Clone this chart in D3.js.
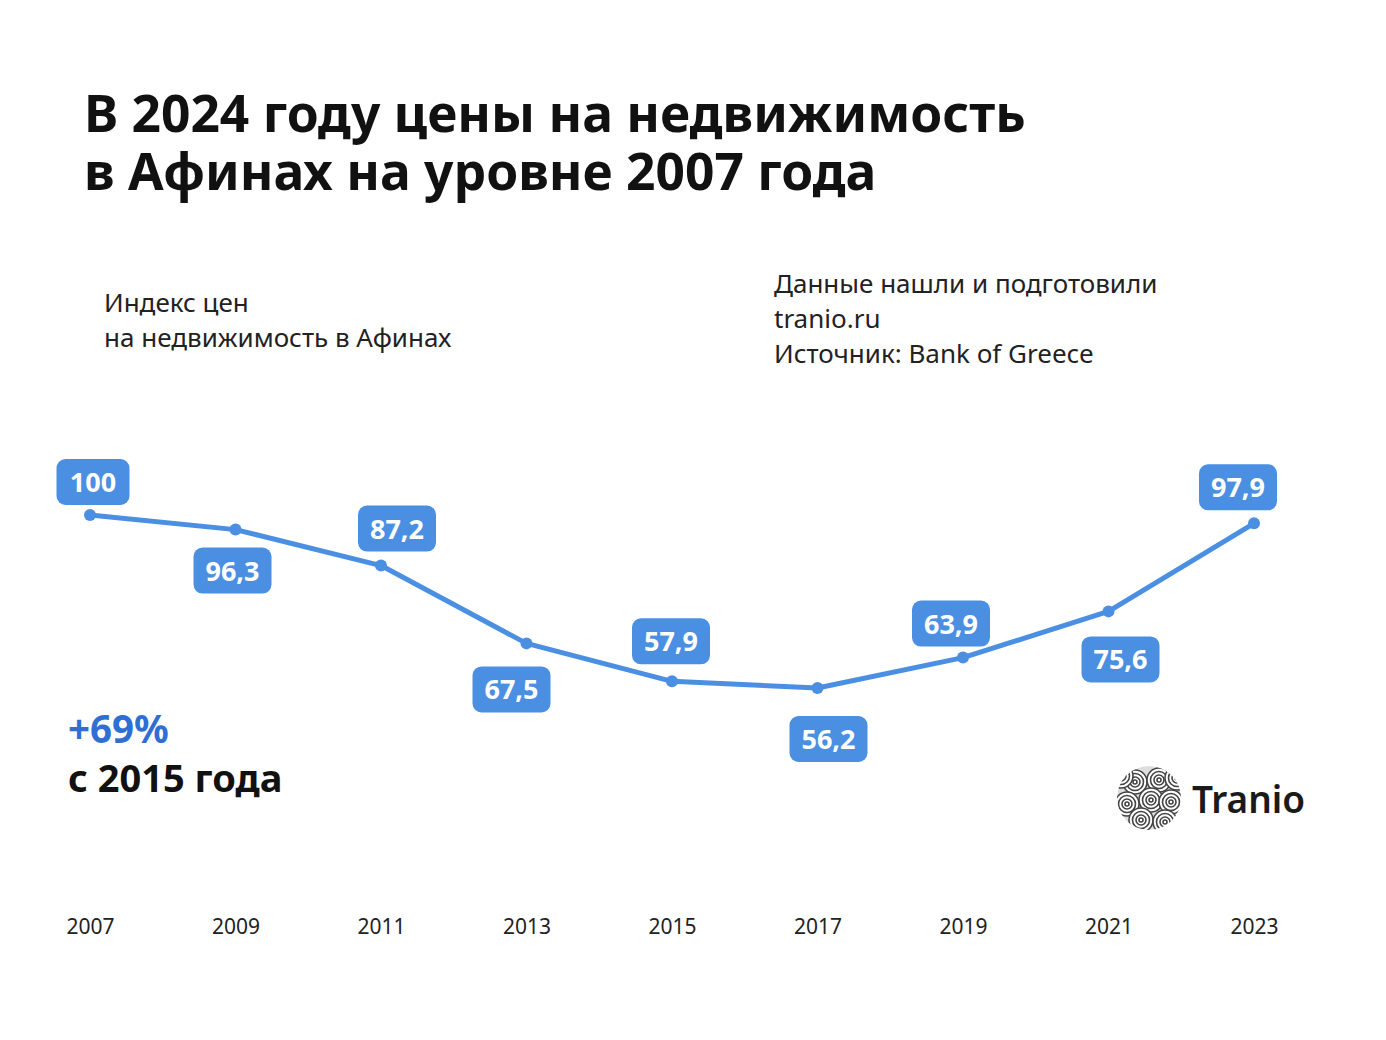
<!DOCTYPE html>
<html>
<head>
<meta charset="utf-8">
<script src="https://cdn.jsdelivr.net/npm/d3@7"></script>
<style>
  body { margin: 0; background: #fff; }
  svg { display: block; font-family: "Noto Sans", "Open Sans", sans-serif; }
</style>
</head>
<body>
<script>
// data
var years = [2007, 2009, 2011, 2013, 2015, 2017, 2019, 2021, 2023];
var values = [100, 96.3, 87.2, 67.5, 57.9, 56.2, 63.9, 75.6, 97.9];
var titleLines = ['В 2024 году цены на недвижимость', 'в Афинах на уровне 2007 года'];
var subtitleLines = ['Индекс цен', 'на недвижимость в Афинах'];
var sourceLines = ['Данные нашли и подготовили', 'tranio.ru', 'Источник: Bank of Greece'];

// label box offsets from their point (layout only)
var labelDx = [3, -3, 16, -15, -1, 11, -12, 12, -16];
var labelDy = [-33, 41, -37, 46, -40, 51, -34, 48, -36];

var W = 1386, H = 1040;
var blue = '#4a8fe2';

var svg = d3.select('body').append('svg')
  .attr('width', W).attr('height', H);

// title
svg.append('g').selectAll('text').data(titleLines).enter()
  .append('text')
  .attr('x', 84).attr('y', (d, i) => 132 + i * 58)
  .style('font-size', '51.5px').style('font-weight', 700)
  .attr('fill', '#111')
  .text(d => d);

svg.append('g').selectAll('text').data(subtitleLines).enter()
  .append('text')
  .attr('x', 104).attr('y', (d, i) => 312 + i * 35)
  .style('font-size', '26px').attr('fill', '#222')
  .text(d => d);

svg.append('g').selectAll('text').data(sourceLines).enter()
  .append('text')
  .attr('x', 774).attr('y', (d, i) => 293 + i * 35)
  .style('font-size', '26px').attr('fill', '#222')
  .text(d => d);

// scales
var xScale = d3.scalePoint().domain(years).range([90, 1254]);
var yScale = d3.scaleLinear().domain([0, 100]).range([910, 515]);

// x axis, labels only
var xAxis = d3.axisBottom(xScale).tickSize(0).tickPadding(0);
var xg = svg.append('g').attr('transform', 'translate(0,908)').call(xAxis);
xg.select('.domain').remove();
xg.selectAll('text')
  .attr('dy', 0).attr('y', 26)
  .style('font-family', '"Noto Sans", sans-serif')
  .style('font-size', '21px').attr('fill', '#222');

// line
var line = d3.line()
  .x((d, i) => xScale(years[i]))
  .y(d => yScale(d));
svg.append('path').datum(values)
  .attr('d', line)
  .attr('fill', 'none').attr('stroke', blue)
  .attr('stroke-width', 5).attr('stroke-linejoin', 'round');

svg.selectAll('circle.pt').data(values).enter()
  .append('circle').attr('class', 'pt')
  .attr('cx', (d, i) => xScale(years[i]))
  .attr('cy', d => yScale(d))
  .attr('r', 6).attr('fill', blue);

// value boxes
var fmt = v => String(v).replace('.', ',');
var lab = svg.selectAll('g.lab').data(values).enter()
  .append('g').attr('class', 'lab')
  .attr('transform', (d, i) => {
    return 'translate(' + (xScale(years[i]) + labelDx[i]) + ',' + (yScale(d) + labelDy[i]) + ')';
  });
lab.append('rect')
  .attr('x', (d, i) => (i == 0 ? -36.5 : -39)).attr('y', -23)
  .attr('width', (d, i) => (i == 0 ? 73 : 78)).attr('height', 46)
  .attr('rx', 9).attr('fill', blue);
lab.append('text')
  .attr('x', 0).attr('y', 10)
  .attr('text-anchor', 'middle')
  .style('font-size', '27px').style('font-weight', 700)
  .attr('fill', '#fff')
  .text(d => fmt(d));

// growth note
svg.append('text').attr('x', 68).attr('y', 743)
  .style('font-size', '38.5px').style('font-weight', 700)
  .attr('fill', '#2f6fd2').text('+69%');
svg.append('text').attr('x', 68).attr('y', 792)
  .style('font-size', '38px').style('font-weight', 700)
  .attr('fill', '#111').text('с 2015 года');

// logo
var logo = svg.append('g').attr('transform', 'translate(1149,798)');
logo.append('clipPath').attr('id', 'lc')
  .append('circle').attr('r', 32);
var sw = logo.append('g').attr('clip-path', 'url(#lc)');
sw.append('circle').attr('r', 32).attr('fill', '#ddd');
var swirls = [[-14, -16], [10, -18], [-22, 6], [2, 2], [22, 4], [-8, 22], [16, 24], [-28, -22], [28, -20]];
swirls.forEach(c => {
  [12, 8.5, 5, 2].forEach(r => {
    sw.append('circle').attr('cx', c[0]).attr('cy', c[1]).attr('r', r)
      .attr('fill', '#fff')
      .attr('stroke', '#444').attr('stroke-width', 1.6);
  });
});
svg.append('text').attr('x', 1192).attr('y', 813)
  .style('font-size', '37px').style('font-weight', 600)
  .attr('fill', '#1a1a1a').text('Tranio');
</script>
</body>
</html>
